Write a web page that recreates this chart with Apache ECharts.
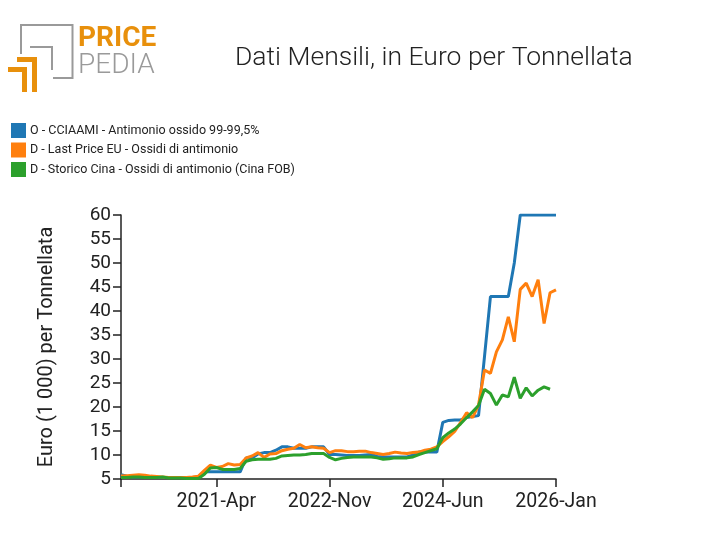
<!DOCTYPE html>
<html>
<head>
<meta charset="utf-8">
<script src="https://cdn.jsdelivr.net/npm/echarts@6/dist/echarts.min.js"></script>
<style>html,body{margin:0;padding:0;background:#fff}#c{width:712px;height:555px}</style>
</head>
<body>
<div id="c"></div>
<script>
// Months from 2019-Dec to 2026-Jan
const monthNames = ['Jan','Feb','Mar','Apr','May','Jun','Jul','Aug','Sep','Oct','Nov','Dec'];
const months = ['2019-Dec'];
for (let y = 2020; y <= 2026; y++) {
  for (let m = 0; m < 12; m++) {
    months.push(y + '-' + monthNames[m]);
    if (y === 2026) break;
  }
}
const xTickLabels = ['2021-Apr', '2022-Nov', '2024-Jun', '2026-Jan'];
const yTicks = { min: 5, max: 60, step: 5 };

const seriesNames = [
  'O - CCIAAMI - Antimonio ossido 99-99,5%',
  'D - Last Price EU - Ossidi di antimonio',
  'D - Storico Cina - Ossidi di antimonio (Cina FOB)'
];

const cciaami = [
  5.9, 5.6, 5.4, 5.4, 5.4, 5.3, 5.3, 5.3, 5.3, 5.3, 5.3, 5.3, 5.3, 5.4,
  6.5, 6.5, 6.5, 6.5, 6.5, 6.5, 6.5,
  9.4, 9.4, 10.2, 10.5, 10.5, 11.0, 11.7, 11.7, 11.4, 11.4, 11.4, 11.7, 11.7, 11.7,
  10.1, 10.1, 10.0, 9.9, 9.9, 9.9, 10.0, 10.1, 9.7, 9.6, 9.6, 9.6, 9.6, 9.6, 10.0,
  10.6, 10.6, 10.6, 10.6, 16.8, 17.2, 17.3, 17.3, 17.8, 18.0, 18.2,
  30.5, 43, 43, 43, 43, 50, 60, 60, 60, 60, 60, 60, 60
];
const lastPriceEU = [
  5.6, 5.7, 5.8, 5.9, 5.8, 5.6, 5.5, 5.4, 5.3, 5.3, 5.3, 5.3, 5.4, 5.6,
  6.8, 7.9, 7.4, 7.6, 8.2, 7.9, 8.0,
  9.4, 9.8, 10.5, 9.5, 10.2, 10.3, 10.9, 11.2, 11.4, 12.2, 11.5, 11.7, 11.5, 11.4,
  10.5, 10.9, 10.9, 10.7, 10.7, 10.8, 10.8, 10.5, 10.3, 10.1, 10.3, 10.6, 10.4, 10.3, 10.5,
  10.6, 11.0, 11.2, 11.7, 12.8, 13.8, 14.9, 16.8, 18.8, 17.8, 20.4,
  27.7, 27.0, 31.5, 34.0, 38.8, 33.6, 44.5, 45.8, 43.0, 46.5, 37.4, 43.8, 44.4
];
const storicoCina = [
  5.3, 5.3, 5.4, 5.4, 5.3, 5.3, 5.3, 5.4, 5.2, 5.2, 5.2, 5.1, 5.1, 5.1,
  6.0, 7.3, 7.4, 7.0, 7.0, 7.0, 7.2,
  8.7, 9.0, 9.1, 9.1, 9.1, 9.3, 9.8, 9.9, 10.0, 10.0, 10.1, 10.3, 10.3, 10.3,
  9.5, 9.0, 9.3, 9.5, 9.6, 9.6, 9.6, 9.6, 9.4, 9.1, 9.2, 9.4, 9.4, 9.4, 9.6,
  10.1, 10.5, 10.9, 11.3, 13.6, 14.6, 15.4, 16.5, 17.8, 19.0, 20.3,
  23.7, 22.8, 20.4, 22.5, 22.1, 26.2, 21.8, 24.0, 22.3, 23.5, 24.2, 23.7, null
];

const colors = ['#1f77b4', '#ff7f0e', '#2ca02c'];
const FONT = 'Roboto, "Liberation Sans", sans-serif';

const chart = echarts.init(document.getElementById('c'), null, { renderer: 'canvas' });

function mkSeries(name, data, color) {
  return {
    name, type: 'line', data, showSymbol: false, symbol: 'none',
    lineStyle: { color, width: 3 }, itemStyle: { color },
    connectNulls: false, animation: false, z: 2
  };
}

const orange = '#e8900c';
const gray = '#9a9a9a';

chart.setOption({
  animation: false,
  textStyle: { fontFamily: FONT },
  color: colors,
  title: {
    text: 'Dati Mensili, in Euro per Tonnellata',
    left: 230, top: 40,
    textStyle: { fontSize: 26.5, fontWeight: 300, color: '#222', fontFamily: FONT }
  },
  legend: {
    orient: 'vertical', left: 6, top: 118,
    itemWidth: 15, itemHeight: 15, itemGap: 4.5,
    icon: 'rect', selectedMode: false,
    textStyle: { fontSize: 12.5, color: '#222', fontFamily: FONT, padding: [0, 0, 0, -1] },
    data: seriesNames
  },
  grid: { left: 121, right: 156, top: 215, bottom: 76, containLabel: false },
  xAxis: {
    type: 'category', data: months, boundaryGap: false,
    axisLine: { lineStyle: { color: '#222', width: 1.5 } },
    axisTick: {
      show: true, length: 8, lineStyle: { color: '#222', width: 1.5 },
      interval: (i, v) => i === 0 || xTickLabels.indexOf(v) >= 0
    },
    axisLabel: {
      interval: (i, v) => xTickLabels.indexOf(v) >= 0,
      fontSize: 19.5, color: '#222', margin: 13, fontFamily: FONT
    },
    splitLine: { show: false }
  },
  yAxis: {
    type: 'value', min: yTicks.min, max: yTicks.max, interval: yTicks.step,
    name: 'Euro (1 000) per Tonnellata', nameLocation: 'middle', nameGap: 64,
    nameTextStyle: { fontSize: 20, color: '#222', fontFamily: FONT },
    axisLine: { show: true, lineStyle: { color: '#222', width: 1.5 } },
    axisTick: { show: true, length: 8, lineStyle: { color: '#222', width: 1.5 } },
    axisLabel: { fontSize: 19, color: '#222', margin: 10, fontFamily: FONT },
    splitLine: { show: false }
  },
  series: [
    mkSeries(seriesNames[0], cciaami, colors[0]),
    mkSeries(seriesNames[1], lastPriceEU, colors[1]),
    mkSeries(seriesNames[2], storicoCina, colors[2])
  ],
  graphic: [
    // logo gray frames
    { type: 'polyline', shape: { points: [[21, 54], [21, 25], [72.5, 25], [72.5, 78], [53, 78]] },
      style: { stroke: gray, lineWidth: 2, fill: null } },
    { type: 'polyline', shape: { points: [[30, 47], [52, 47], [52, 70]] },
      style: { stroke: gray, lineWidth: 2, fill: null } },
    // logo orange L shapes
    { type: 'rect', shape: { x: 17, y: 57, width: 20, height: 5 }, style: { fill: orange } },
    { type: 'rect', shape: { x: 32, y: 57, width: 5, height: 35 }, style: { fill: orange } },
    { type: 'rect', shape: { x: 8, y: 67, width: 19, height: 5 }, style: { fill: orange } },
    { type: 'rect', shape: { x: 22, y: 67, width: 5, height: 25 }, style: { fill: orange } },
    { type: 'text', left: 78, top: 25,
      style: { text: 'PRICE', fontSize: 28, fontWeight: 'bold', fill: orange, fontFamily: FONT } },
    { type: 'text', left: 78, top: 52,
      style: { text: 'PEDIA', fontSize: 28, fontWeight: 300, fill: gray, fontFamily: FONT } }
  ]
});
</script>
</body>
</html>
